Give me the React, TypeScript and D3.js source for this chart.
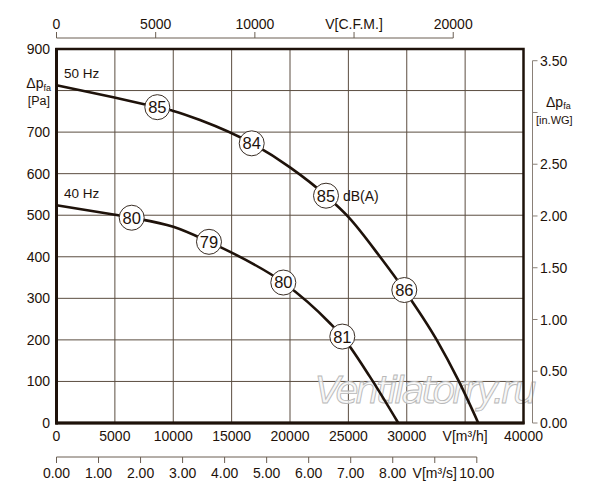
import React from 'react';
import * as d3 from 'd3';

// curve data: flow in m3/h, pressure in Pa
const flow50 = [0, 4865, 8634, 10004, 12291, 16720, 20000, 23084, 24994, 27709, 29790, 32565, 34415, 36128];
const pres50 = [813, 784, 760, 751, 729, 673, 615, 547, 496, 400, 320, 200, 103, 0];
const flow40 = [0, 5011, 6441, 10004, 13062, 15006, 19426, 23426, 24480, 26852, 29276];
const pres40 = [524, 501, 494, 472, 436, 410, 338, 240, 208, 111, 0];

// noise labels dB(A)
const noise50Flow = [8634, 16720, 23084, 29790];
const noise50Pres = [760, 673, 547, 320];
const noise50Text = ['85', '84', '85', '86'];
const noise40Flow = [6441, 13062, 19426, 24480];
const noise40Pres = [494, 436, 338, 208];
const noise40Text = ['80', '79', '80', '81'];

// axis ticks
const flowTicks = [0, 5000, 10000, 15000, 20000, 25000, 30000, 35000, 40000];
const flowLabels = ['0', '5000', '10000', '15000', '20000', '25000', '30000', 'V[m³/h]', '40000'];
const presTicks = [0, 100, 200, 300, 400, 500, 600, 700, 800, 900];
const presLabels = ['0', '100', '200', '300', '400', '500', '600', '700', '', '900'];
const cfmTicks = [0, 5000, 10000, 15000, 20000];
const cfmLabels = ['0', '5000', '10000', 'V[C.F.M.]', '20000'];
const inwgTicks = [0, 0.5, 1, 1.5, 2, 2.5, 3, 3.5];
const inwgLabels = ['0.00', '0.50', '1.00', '1.50', '2.00', '2.50', '', '3.50'];
const m3sTicks = [0, 1, 2, 3, 4, 5, 6, 7, 8, 9, 10];
const m3sLabels = ['0.00', '1.00', '2.00', '3.00', '4.00', '5.00', '6.00', '7.00', '8.00', 'V[m³/s]', '10.00'];

const M3H_TO_CFM = 0.588578;
const PA_PER_INWG = 249.089;

const font = '"Liberation Sans", Arial, sans-serif';
const ink = '#1e120a';

const App: React.FC = () => {
  const x = d3.scaleLinear().domain([0, 40000]).range([56.5, 523.5]);
  const y = d3.scaleLinear().domain([0, 900]).range([423, 49]);
  const xCfm = d3.scaleLinear().domain([0, 20000]).range([x(0), x(20000 / M3H_TO_CFM)]);
  const yIn = d3.scaleLinear().domain([0, 3.5]).range([y(0), y(3.5 * PA_PER_INWG)]);
  const xS = d3.scaleLinear().domain([0, 10]).range([x(0), x(36000)]);

  const line = d3.line<[number, number]>()
    .x(d => x(d[0]))
    .y(d => y(d[1]))
    .curve(d3.curveMonotoneX);

  const d50 = line(flow50.map((q, i) => [q, pres50[i]] as [number, number])) || '';
  const d40 = line(flow40.map((q, i) => [q, pres40[i]] as [number, number])) || '';

  const labels = [
    ...noise50Flow.map((q, i) => ({ q, p: noise50Pres[i], t: noise50Text[i] })),
    ...noise40Flow.map((q, i) => ({ q, p: noise40Pres[i], t: noise40Text[i] })),
  ];

  const cfmY = 38;
  const m3sY = 457;
  const rightX = 532.5;

  return (
    <svg width={600} height={500} style={{ position: 'absolute', left: 0, top: 0, background: '#fff' }}
      fontFamily={font} fill={ink}>
      {/* grid */}
      {flowTicks.slice(1, -1).map(t => (
        <line key={'gx' + t} x1={x(t)} x2={x(t)} y1={y(900)} y2={y(0)} stroke="#5b4d40" strokeWidth={1} />
      ))}
      {presTicks.slice(1, -1).map(t => (
        <line key={'gy' + t} x1={x(0)} x2={x(40000)} y1={y(t)} y2={y(t)} stroke="#5b4d40" strokeWidth={1} />
      ))}

      {/* watermark */}
      <text x={315} y={403} fontSize={38} fontStyle="italic" fill="#f6f6f6" fillOpacity={0.8}
        stroke="#b8b8b8" strokeWidth={0.9} fontFamily='"DejaVu Sans", sans-serif' textLength={222}>
        Ventilatorry.ru
      </text>

      {/* frame */}
      <rect x={x(0)} y={y(900)} width={x(40000) - x(0)} height={y(0) - y(900)} fill="none" stroke={ink} strokeWidth={2.5} />
      <line x1={x(0)} x2={x(0)} y1={y(900) - 1} y2={y(0) + 1.5} stroke={ink} strokeWidth={3} />
      <line x1={x(0) - 1} x2={x(40000) + 1} y1={y(0)} y2={y(0)} stroke={ink} strokeWidth={3} />

      {/* curves */}
      <path d={d50} fill="none" stroke={ink} strokeWidth={2.6} />
      <path d={d40} fill="none" stroke={ink} strokeWidth={2.6} />

      {labels.map((l, i) => (
        <g key={'n' + i} transform={`translate(${x(l.q)},${y(l.p)})`}>
          <circle r={12.5} fill="#fff" stroke="#3a2e25" strokeWidth={1} />
          <text textAnchor="middle" dy="0.36em" fontSize={16.5}>{l.t}</text>
        </g>
      ))}
      <text x={x(23084) + 17} y={y(547)} dy="0.36em" fontSize={14}>dB(A)</text>
      <text x={64} y={y(813) - 7} fontSize={13.5}>50 Hz</text>
      <text x={64} y={y(524) - 7} fontSize={13.5}>40 Hz</text>

      {/* left axis labels */}
      {presTicks.map((t, i) => (
        <text key={'ly' + t} x={50} y={y(t)} dy="0.36em" textAnchor="end" fontSize={14}>{presLabels[i]}</text>
      ))}
      <text x={51} y={88} textAnchor="end" fontSize={14}>
        Δp<tspan fontSize={9} dy={3}>fa</tspan>
      </text>
      <text x={50} y={105} textAnchor="end" fontSize={12.5}>[Pa]</text>

      {/* bottom axis labels */}
      {flowTicks.map((t, i) => (
        <text key={'lx' + t} x={x(t)} y={436} dy="0.36em" textAnchor="middle" fontSize={14}>{flowLabels[i]}</text>
      ))}

      {/* top CFM axis */}
      <line x1={xCfm(0)} x2={xCfm(20000)} y1={cfmY} y2={cfmY} stroke="#6a5e52" strokeWidth={1} />
      {cfmTicks.map((t, i) => (
        <g key={'c' + t}>
          <line x1={xCfm(t)} x2={xCfm(t)} y1={cfmY} y2={cfmY - 6} stroke="#6a5e52" strokeWidth={1} />
          <text x={xCfm(t)} y={24} dy="0.36em" textAnchor="middle" fontSize={14}>{cfmLabels[i]}</text>
        </g>
      ))}

      {/* right in.WG axis */}
      <line x1={rightX} x2={rightX} y1={yIn(0)} y2={yIn(3.5)} stroke="#8a8078" strokeWidth={1} />
      {inwgTicks.map((t, i) => (
        <g key={'w' + t}>
          <line x1={rightX} x2={rightX + 5} y1={yIn(t)} y2={yIn(t)} stroke="#8a8078" strokeWidth={1} />
          <text x={540} y={yIn(t)} dy="0.36em" fontSize={14}>{inwgLabels[i]}</text>
        </g>
      ))}
      <text x={546} y={107} fontSize={14}>
        Δp<tspan fontSize={9} dy={2}>fa</tspan>
      </text>
      <text x={536} y={124} fontSize={11}>[in.WG]</text>

      {/* bottom m3/s axis */}
      <line x1={xS(0)} x2={xS(10)} y1={m3sY} y2={m3sY} stroke="#6a5e52" strokeWidth={1} />
      {m3sTicks.map((t, i) => (
        <g key={'s' + t}>
          <line x1={xS(t)} x2={xS(t)} y1={m3sY} y2={m3sY + 6} stroke="#6a5e52" strokeWidth={1} />
          <text x={xS(t)} y={473} dy="0.36em" textAnchor="middle" fontSize={14}>{m3sLabels[i]}</text>
        </g>
      ))}
    </svg>
  );
};

export default App;
